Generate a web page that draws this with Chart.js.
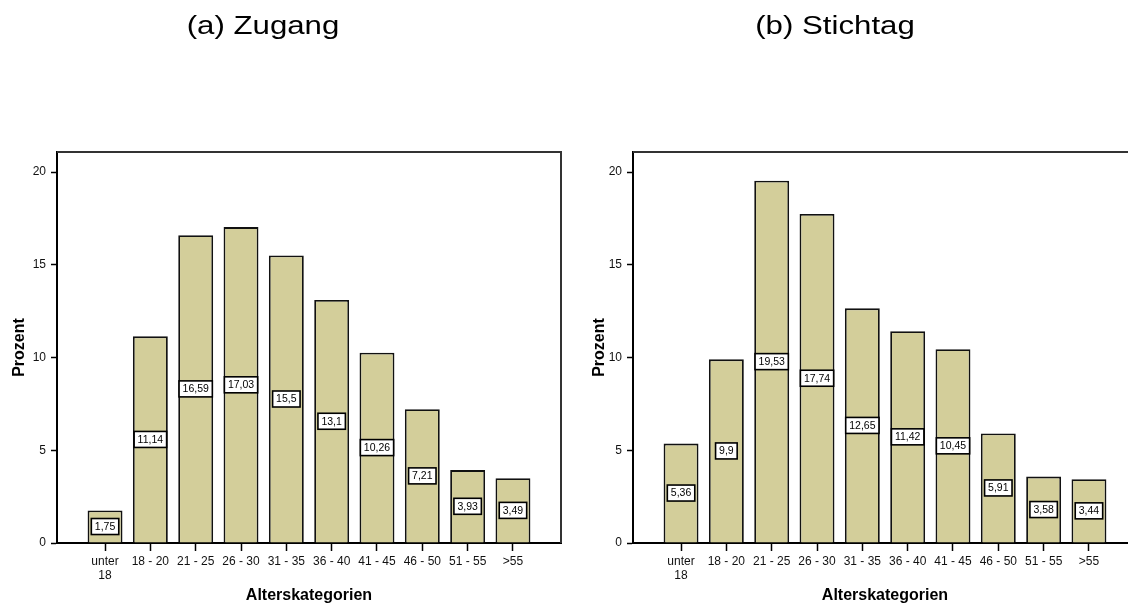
<!DOCTYPE html>
<html><head><meta charset="utf-8">
<script src="https://cdn.jsdelivr.net/npm/chart.js@4/dist/chart.umd.min.js"></script>
<style>
html,body{margin:0;padding:0;background:#fff;overflow:hidden;width:1128px;height:606px;position:relative;}
canvas{position:absolute;top:0;}
#c1{left:0}
#c2{left:576px}
</style></head><body>
<canvas id="c1" width="564" height="606"></canvas>
<canvas id="c2" width="564" height="606"></canvas>
<script>
const categories = [['unter', '18'], '18 - 20', '21 - 25', '26 - 30', '31 - 35', '36 - 40', '41 - 45', '46 - 50', '51 - 55', '>55'];
const zugangValues = [1.75, 11.14, 16.59, 17.03, 15.5, 13.1, 10.26, 7.21, 3.93, 3.49];
const stichtagValues = [5.36, 9.9, 19.53, 17.74, 12.65, 11.42, 10.45, 5.91, 3.58, 3.44];
const yTicks = [0, 5, 10, 15, 20];
const panelTitles = ['(a) Zugang', '(b) Stichtag'];
const yTitle = 'Prozent';
const xTitle = 'Alterskategorien';

const FONT = '"Liberation Sans", Arial, Helvetica, sans-serif';
const fmt = v => String(v).replace('.', ',');

const decorPlugin = {
  id: 'decor',
  afterDatasetsDraw(chart) {
    const ctx = chart.ctx;
    const meta = chart.getDatasetMeta(0);
    const ds = chart.data.datasets[0].data;
    ctx.save();
    ctx.font = '10.5px ' + FONT;
    ctx.textAlign = 'center';
    ctx.textBaseline = 'middle';
    meta.data.forEach((bar, i) => {
      const t = fmt(ds[i].y);
      const w = ctx.measureText(t).width + 7;
      const h = 16;
      const cx = bar.x, cy = (bar.y + bar.base) / 2;
      ctx.fillStyle = '#fff';
      ctx.fillRect(cx - w / 2, cy - h / 2, w, h);
      ctx.lineWidth = 1.6;
      ctx.strokeStyle = '#000';
      ctx.strokeRect(cx - w / 2, cy - h / 2, w, h);
      ctx.fillStyle = '#000';
      ctx.fillText(t, cx, cy + 0.5);
    });
    ctx.restore();
  },
  afterDraw(chart, args, opts) {
    const { ctx, chartArea: a } = chart;
    ctx.save();
    ctx.strokeStyle = '#333';
    ctx.lineWidth = 2;
    ctx.beginPath();
    ctx.moveTo(a.left, a.top);
    ctx.lineTo(a.right, a.top);
    ctx.lineTo(a.right, a.bottom);
    ctx.stroke();
    ctx.translate(opts.titleX, opts.titleY);
    ctx.scale(1.2, 1);
    ctx.font = '26px ' + FONT;
    ctx.fillStyle = '#000';
    ctx.textAlign = 'center';
    ctx.textBaseline = 'alphabetic';
    ctx.fillText(opts.title, 0, 0);
    ctx.restore();
  }
};

function makeChart(id, values, title, titleX, yTitlePad) {
  return new Chart(document.getElementById(id), {
    type: 'bar',
    data: {
      datasets: [{
        data: values.map((v, i) => ({ x: i, y: v })),
        backgroundColor: '#d3ce9a',
        borderColor: '#111',
        borderWidth: 1.8,
        barPercentage: 0.77,
        categoryPercentage: 1
      }]
    },
    options: {
      responsive: false,
      animation: false,
      devicePixelRatio: 1,
      layout: { padding: { top: 152, left: 0, right: 3, bottom: 0 } },
      plugins: {
        legend: { display: false },
        tooltip: { enabled: false },
        decor: { title: title, titleX: titleX, titleY: 34 }
      },
      scales: {
        x: {
          type: 'linear',
          offset: false,
          min: -1.06,
          max: 10.06,
          afterBuildTicks: s => { s.ticks = categories.map((_, i) => ({ value: i })); },
          afterFit: s => { s.height = 63; },
          grid: { offset: false, drawOnChartArea: false, drawTicks: true, tickLength: 8, tickColor: '#000', tickWidth: 1.5 },
          border: { display: true, color: '#000', width: 2 },
          ticks: {
            autoSkip: false, maxRotation: 0, minRotation: 0, padding: 3,
            color: '#111', font: { size: 12, family: FONT },
            callback: v => categories[v]
          },
          title: { display: true, text: xTitle, color: '#000', font: { size: 16, weight: 'bold', family: FONT }, padding: { top: 0, bottom: 1 } }
        },
        y: {
          min: 0,
          max: 21.08,
          afterBuildTicks: s => { s.ticks = yTicks.map(v => ({ value: v })); },
          afterFit: s => { s.width = 57; },
          grid: { drawOnChartArea: false, drawTicks: true, tickLength: 6, tickColor: '#000', tickWidth: 1.5 },
          border: { display: true, color: '#000', width: 2 },
          ticks: { padding: 5, color: '#111', font: { size: 12, family: FONT } },
          title: { display: true, text: yTitle, color: '#000', font: { size: 16, weight: 'bold', family: FONT }, padding: { top: yTitlePad, bottom: 0 } }
        }
      }
    },
    plugins: [decorPlugin]
  });
}

makeChart('c1', zugangValues, panelTitles[0], 263, 10);
makeChart('c2', stichtagValues, panelTitles[1], 259, 14);
</script>
</body></html>
